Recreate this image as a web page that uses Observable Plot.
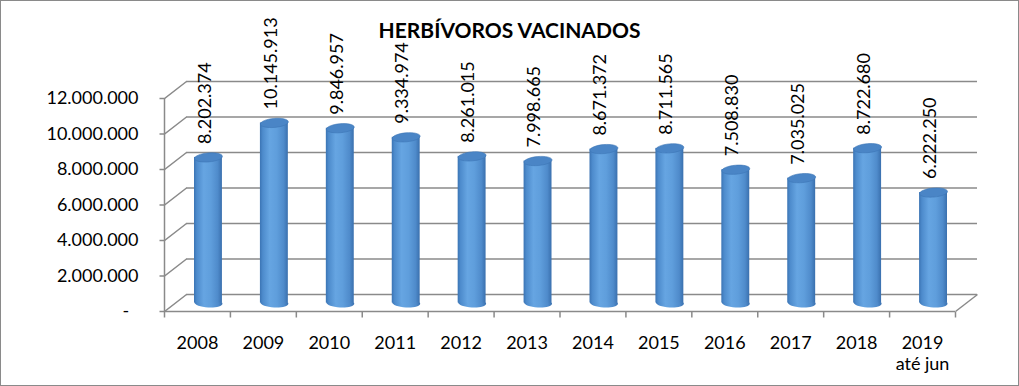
<!DOCTYPE html>
<html>
<head>
<meta charset="utf-8">
<script src="https://cdn.jsdelivr.net/npm/d3@7"></script>
<script src="https://cdn.jsdelivr.net/npm/@observablehq/plot@0.6"></script>
<style>
  html, body { margin: 0; padding: 0; background: #fff; }
  #wrap { position: relative; width: 1019px; height: 386px; overflow: hidden; background: #fff; }
  #title { position: absolute; left: 0; top: 19px; width: 1019px; text-align: center;
           font-family: Lato, "Open Sans", sans-serif; font-weight: bold; font-size: 21px; line-height: 22px; color: #000; }
  #border { position: absolute; left: 0; top: 0; width: 1019px; height: 386px; box-sizing: border-box;
            border: 1px solid #8a8a8a; pointer-events: none; }
  svg { display: block; }
</style>
</head>
<body>
<div id="wrap">
  <div id="chart"></div>
  <div id="title">HERBÍVOROS VACINADOS</div>
  <div id="border"></div>
</div>
<script>
// ---- data ----
const years = ["2008", "2009", "2010", "2011", "2012", "2013", "2014", "2015", "2016", "2017", "2018", "2019\naté jun"];
const values = [8202374, 10145913, 9846957, 9334974, 8261015, 7998665, 8671372, 8711565, 7508830, 7035025, 8722680, 6222250];
const yTicks = [0, 2000000, 4000000, 6000000, 8000000, 10000000, 12000000];

// ---- helpers ----
const fmt = d3.formatLocale({decimal: ",", thousands: ".", grouping: [3], currency: ["", ""]}).format(",d");
const yFmt = v => v === 0 ? "-\u00a0\u00a0" : fmt(v);
const data = values.map((v, i) => ({i, year: years[i], v}));
const boundaries = d3.range(years.length + 1);

const DX = 22, DY = -17;           // depth offset of back wall
const BX = DX / 2, BY = DY / 2;    // bars sit mid-depth
const grid = "#8a8a8a";

function ellipseSymbol(angleDeg) {
  const a = angleDeg * Math.PI / 180, c = Math.cos(a), s = Math.sin(a);
  const rx = 14, ry = 4.5, kx = rx * 0.5523, ky = ry * 0.5523;
  const T = (x, y) => [x * c - y * s, x * s + y * c];
  return {
    draw(ctx) {
      const m = (p) => ctx.moveTo(...T(...p));
      const b = (p1, p2, p3) => ctx.bezierCurveTo(...T(...p1), ...T(...p2), ...T(...p3));
      m([-rx, 0]);
      b([-rx, -ky], [-kx, -ry], [0, -ry]);
      b([kx, -ry], [rx, -ky], [rx, 0]);
      b([rx, ky], [kx, ry], [0, ry]);
      b([-kx, ry], [-rx, ky], [-rx, 0]);
      ctx.closePath();
    }
  };
}
const topEllipse = ellipseSymbol(-5);
const bottomEllipse = ellipseSymbol(3);
const leftTickDiag = { draw(ctx) { ctx.moveTo(-5, 0); ctx.lineTo(0, 0); ctx.lineTo(DX, DY); } };
const diag = { draw(ctx) { ctx.moveTo(0, 0); ctx.lineTo(DX, DY); } };
const tickDown = { draw(ctx) { ctx.moveTo(0, 0); ctx.lineTo(0, 6); } };

const BODY = "#5b9bd7", BOTTOM = "#5b9bd6";

const chart = Plot.plot({
  width: 1019,
  height: 386,
  marginLeft: 164,
  marginRight: 64,
  marginTop: 98,
  marginBottom: 75,
  style: {fontFamily: "Lato, 'Open Sans', sans-serif", fontSize: "18px", background: "transparent", color: "#000"},
  x: {domain: [0, years.length], axis: null},
  y: {domain: [0, 12000000], axis: null},
  marks: [
    // back wall gridlines
    Plot.ruleY(yTicks, {y: d => d, dx: DX, dy: DY, stroke: grid, strokeWidth: 1.5}),
    // left side: tick + diagonal to back wall
    Plot.dot(yTicks, {y: d => d, frameAnchor: "left", symbol: leftTickDiag, fill: "none", stroke: grid, strokeWidth: 1.5}),
    // front floor line + right diagonal
    Plot.ruleY([0], {stroke: grid, strokeWidth: 1.5}),
    Plot.dot([0], {y: d => d, frameAnchor: "right", symbol: diag, fill: "none", stroke: grid, strokeWidth: 1.5}),
    // front y axis line
    Plot.ruleX([0], {stroke: grid, strokeWidth: 1.5}),
    // category boundary ticks
    Plot.dot(boundaries, {x: d => d, frameAnchor: "bottom", symbol: tickDown, fill: "none", stroke: grid, strokeWidth: 1.5}),
    // cylinders
    Plot.dot(data, {x: d => d.i + 0.5, y: () => 0, dx: BX, dy: BY, symbol: bottomEllipse, fill: BOTTOM, stroke: "none"}),
    Plot.rectY(data, {x1: d => d.i, x2: d => d.i + 1, y: "v", insetLeft: 19, insetRight: 19, dx: BX, dy: BY, fill: BODY}),
    Plot.dot(data, {x: d => d.i + 0.5, y: "v", dx: BX, dy: BY, symbol: topEllipse, fill: "#4a85c6", stroke: "#3d76b6", strokeWidth: 0.6}),
    // value labels
    Plot.text(data, {x: d => d.i + 0.5, y: "v", text: d => fmt(d.v), rotate: -90, textAnchor: "start", dx: 7.5, dy: -22, fill: "#000"}),
    // category labels
    Plot.text(data, {x: d => d.i + 0.5, frameAnchor: "bottom", text: "year", lineAnchor: "top", dy: 22, lineHeight: 1.2, fill: "#000"}),
    // y tick labels
    Plot.text(yTicks, {y: d => d, frameAnchor: "left", text: yFmt, textAnchor: "end", dx: -26, fill: "#000"})
  ]
});

// gradient for the cylinders
const ns = "http://www.w3.org/2000/svg";
const defs = document.createElementNS(ns, "defs");
const grad = document.createElementNS(ns, "linearGradient");
grad.setAttribute("id", "cyl");
grad.setAttribute("x1", "0"); grad.setAttribute("x2", "1");
grad.setAttribute("y1", "0"); grad.setAttribute("y2", "0");
[[0, "#3b74b4"], [0.1, "#4d8bcc"], [0.35, "#66a5e2"], [0.6, "#5f9edc"], [0.85, "#4f8bcb"], [1, "#3a70ae"]].forEach(([o, c]) => {
  const s = document.createElementNS(ns, "stop");
  s.setAttribute("offset", o); s.setAttribute("stop-color", c);
  grad.appendChild(s);
});
defs.appendChild(grad);
chart.insertBefore(defs, chart.firstChild);
chart.querySelectorAll("[fill]").forEach(el => {
  const f = (el.getAttribute("fill") || "").toLowerCase();
  if (f === BODY || f === BOTTOM) el.setAttribute("fill", "url(#cyl)");
});

document.getElementById("chart").appendChild(chart);
</script>
</body>
</html>
